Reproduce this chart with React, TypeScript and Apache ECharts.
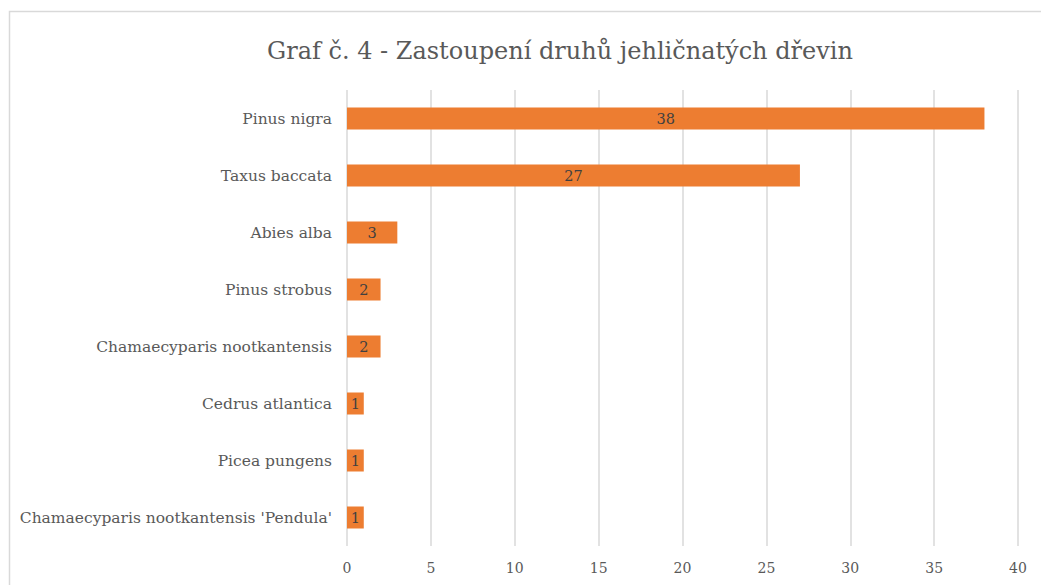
import React, { useEffect, useRef } from "react";
import * as echarts from "echarts";

const categories = [
  "Pinus nigra",
  "Taxus baccata",
  "Abies alba",
  "Pinus strobus",
  "Chamaecyparis nootkantensis",
  "Cedrus atlantica",
  "Picea pungens",
  "Chamaecyparis nootkantensis 'Pendula'",
];
const values = [38, 27, 3, 2, 2, 1, 1, 1];
const titleText = "Graf č. 4 - Zastoupení druhů jehličnatých dřevin";

export default function App() {
  const ref = useRef<HTMLDivElement>(null);
  useEffect(() => {
    const chart = echarts.init(ref.current!, null, { renderer: "svg" });
    const font = "DejaVu Serif";
    chart.setOption({
      animation: false,
      backgroundColor: "#ffffff",
      textStyle: { fontFamily: font },
      title: {
        text: titleText,
        left: 262,
        top: 34,
        textStyle: { fontFamily: font, fontSize: 24, fontWeight: "normal", color: "#595959" },
      },
      graphic: [
        {
          type: "rect",
          shape: { x: 9.5, y: 11.5, width: 1200, height: 800 },
          style: { fill: "none", stroke: "#d9d9d9", lineWidth: 1.5 },
          silent: true,
        },
      ],
      grid: { left: 347, right: 23, top: 90, bottom: 39, outerBoundsMode: "none", containLabel: false },
      xAxis: {
        type: "value",
        min: 0,
        max: 40,
        interval: 5,
        axisLine: { show: false },
        axisTick: { show: false },
        splitLine: { show: true, lineStyle: { color: "#d9d9d9", width: 1.5 } },
        axisLabel: { fontFamily: font, fontSize: 14, color: "#595959", margin: 15 },
      },
      yAxis: {
        type: "category",
        data: categories,
        inverse: true,
        axisLine: { show: false },
        axisTick: { show: false },
        axisLabel: { fontFamily: font, fontSize: 15.5, color: "#595959", margin: 15 },
      },
      series: [
        {
          type: "bar",
          data: values,
          barWidth: 22,
          itemStyle: { color: "#ED7D31" },
          label: {
            show: true,
            position: "inside",
            fontFamily: font,
            fontSize: 14.5,
            color: "#404040",
          },
        },
      ],
    });
    return () => chart.dispose();
  }, []);
  return (
    <div
      ref={ref}
      style={{ position: "absolute", left: 0, top: 0, width: 1041, height: 585 }}
    />
  );
}
